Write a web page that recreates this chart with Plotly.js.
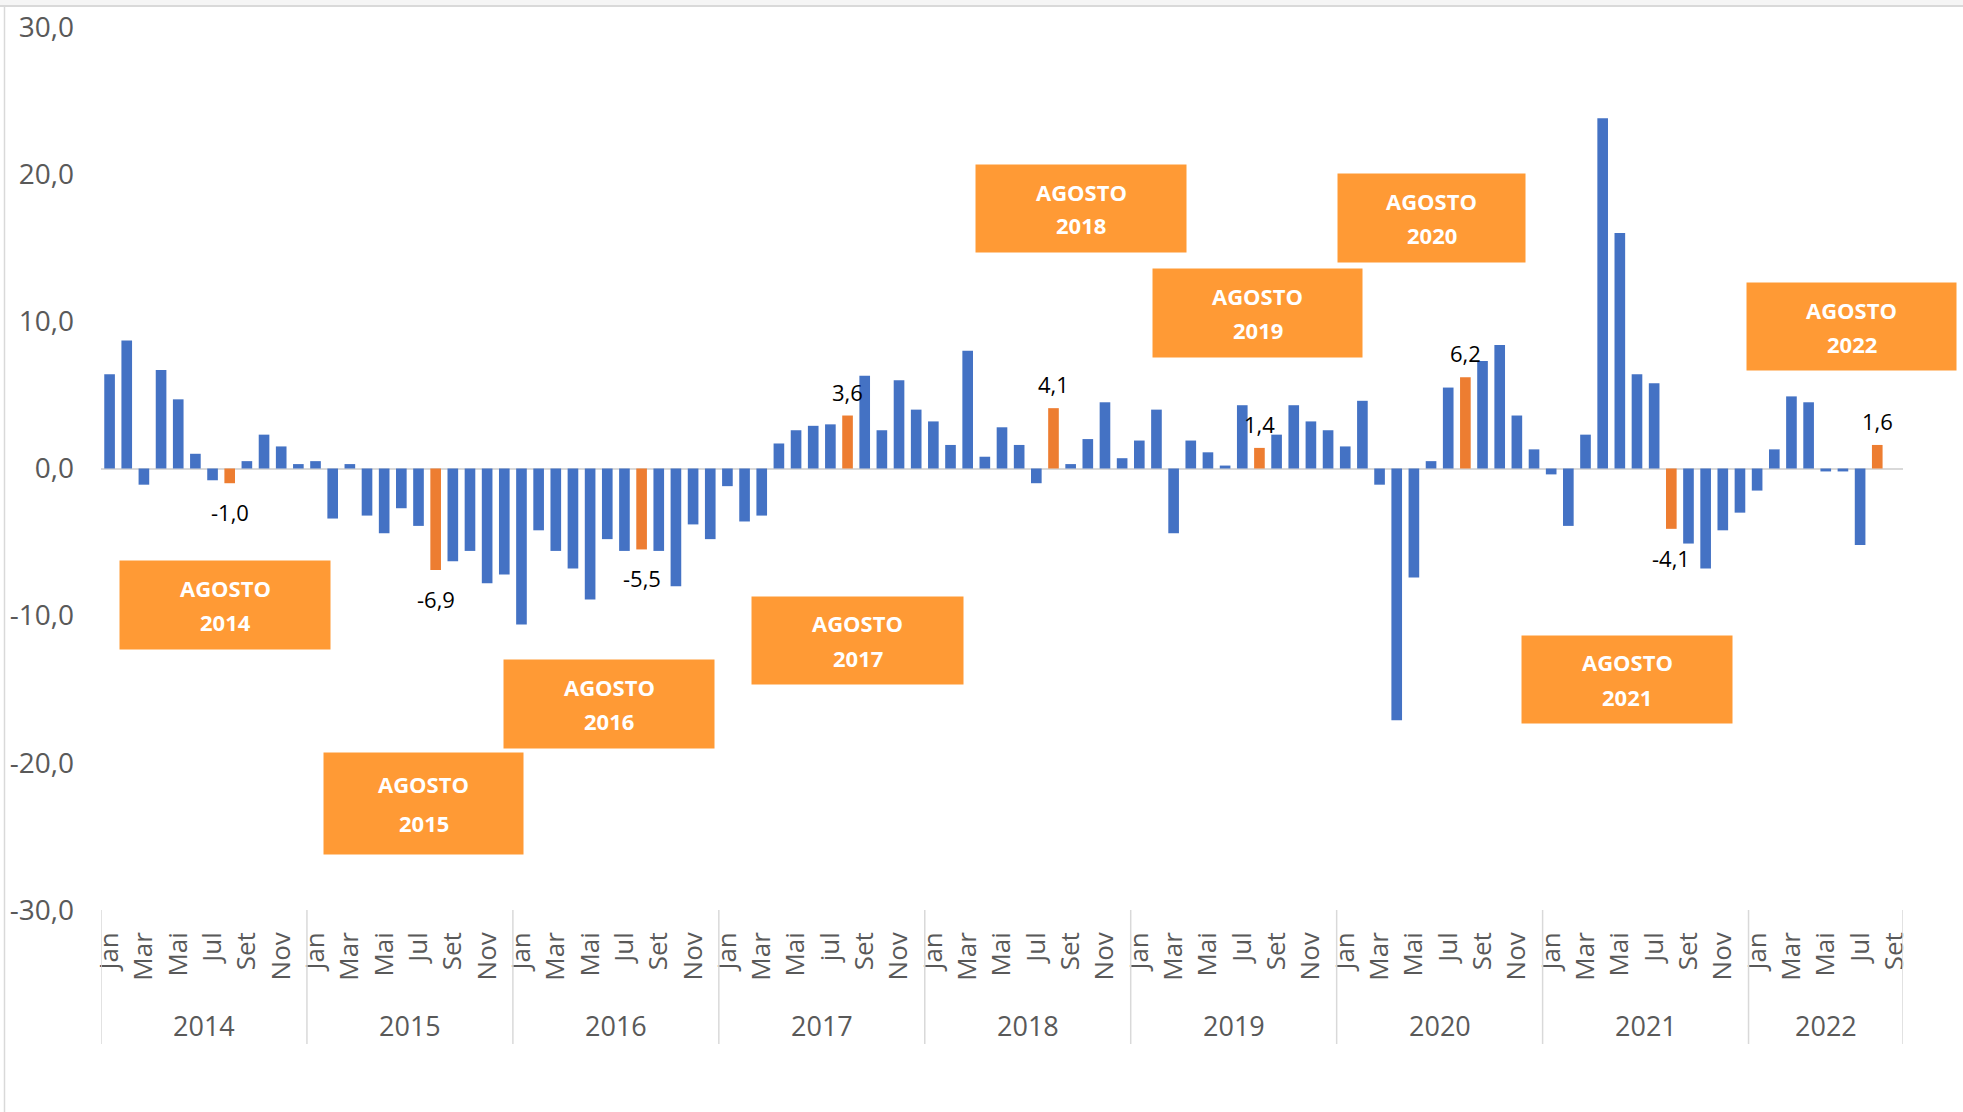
<!DOCTYPE html>
<html><head><meta charset="utf-8">
<script src="https://cdn.plot.ly/plotly-3.0.1.min.js"></script>
<style>html,body{margin:0;padding:0;background:#fff;overflow:hidden}#chart{width:1963px;height:1112px}</style>
</head><body><div id="chart"></div>
<script>
// ---------- data ----------
const years = ['2014','2015','2016','2017','2018','2019','2020','2021','2022'];
const monthNames = ['Jan','Fev','Mar','Abr','Mai','Jun','Jul','Ago','Set','Out','Nov','Dez'];
const monthNames2017 = ['Jan','Fev','Mar','Abr','Mai','Jun','jul','Ago','Set','Out','Nov','Dez'];
const v2014 = [6.4, 8.7, -1.1, 6.7, 4.7, 1.0, -0.8, -1.0, 0.5, 2.3, 1.5, 0.3];
const v2015 = [0.5, -3.4, 0.3, -3.2, -4.4, -2.7, -3.9, -6.9, -6.3, -5.6, -7.8, -7.2];
const v2016 = [-10.6, -4.2, -5.6, -6.8, -8.9, -4.8, -5.6, -5.5, -5.6, -8.0, -3.8, -4.8];
const v2017 = [-1.2, -3.6, -3.2, 1.7, 2.6, 2.9, 3.0, 3.6, 6.3, 2.6, 6.0, 4.0];
const v2018 = [3.2, 1.6, 8.0, 0.8, 2.8, 1.6, -1.0, 4.1, 0.3, 2.0, 4.5, 0.7];
const v2019 = [1.9, 4.0, -4.4, 1.9, 1.1, 0.2, 4.3, 1.4, 2.3, 4.3, 3.2, 2.6];
const v2020 = [1.5, 4.6, -1.1, -17.1, -7.4, 0.5, 5.5, 6.2, 7.3, 8.4, 3.6, 1.3];
const v2021 = [-0.4, -3.9, 2.3, 23.8, 16.0, 6.4, 5.8, -4.1, -5.1, -6.8, -4.2, -3.0];
const v2022 = [-1.5, 1.3, 4.9, 4.5, -0.2, -0.2, -5.2, 1.6, null];
const yTickValues = [-30, -20, -10, 0, 10, 20, 30];
const yTickLabels = ['-30,0', '-20,0', '-10,0', '0,0', '10,0', '20,0', '30,0'];
const highlightMonth = 'Ago';
const boxWord = 'AGOSTO';

// ---------- styles / layout spec ----------
const BLUE = '#4472C4', ORANGE = '#ED7D31', BOX = '#FF9A35', GREY_TXT = '#595959', LINE = '#D9D9D9';
const FONT = 'Open Sans, Noto Sans, sans-serif';
const W = 1963, H = 1112, L = 101, R = 60, T = 27, B = 202;
const PW = W - L - R, PH = H - T - B;
const px = X => (X - L) / PW;
const py = Y => (H - B - Y) / PH;
// text boxes, in page pixels
const boxes = [
  {year:'2014', x0:119, x1:331, y0:560, y1:650, gap:17},
  {year:'2015', x0:323, x1:524, y0:752, y1:855, gap:19.5},
  {year:'2016', x0:503, x1:715, y0:659, y1:749, gap:17},
  {year:'2017', x0:751, x1:964, y0:596, y1:685, gap:17},
  {year:'2018', x0:975, x1:1187, y0:164, y1:253, gap:17},
  {year:'2019', x0:1152, x1:1363, y0:268, y1:358, gap:17},
  {year:'2020', x0:1337, x1:1526, y0:173, y1:263, gap:17},
  {year:'2021', x0:1521, x1:1733, y0:635, y1:724, gap:17},
  {year:'2022', x0:1746, x1:1957, y0:282, y1:371, gap:17}
];

// ---------- build ----------
const series = [v2014, v2015, v2016, v2017, v2018, v2019, v2020, v2021, v2022];
const xs = [], ys = [], colors = [], tickvals = [], ticktext = [], yearCenters = [], dividers = [-0.5], highlights = [];
let idx = 0;
series.forEach((vals, yi) => {
  const names = years[yi] === '2017' ? monthNames2017 : monthNames;
  const start = idx;
  vals.forEach((v, m) => {
    xs.push(idx); ys.push(v);
    const hl = monthNames[m] === highlightMonth;
    colors.push(hl ? ORANGE : BLUE);
    if (m % 2 === 0) { tickvals.push(idx); ticktext.push(names[m]); }
    if (hl && v !== null) highlights.push({x: idx, v: v});
    idx++;
  });
  yearCenters.push((start + idx - 1) / 2);
  dividers.push(idx - 0.5);
});
const fmt = v => v.toFixed(1).replace('.', ',');

const shapes = [];
// outer chart frame
shapes.push({type:'rect', xref:'paper', yref:'paper', x0:px(0), x1:px(W), y0:py(0), y1:py(6), fillcolor:'#F5F5F5', line:{width:0}, layer:'below'});
shapes.push({type:'line', xref:'paper', yref:'paper', x0:px(0), x1:px(W), y0:py(6), y1:py(6), line:{color:LINE, width:2}});
shapes.push({type:'line', xref:'paper', yref:'paper', x0:px(4.5), x1:px(4.5), y0:py(6), y1:py(H), line:{color:LINE, width:1.5}});
// year dividers under the axis
dividers.forEach(d => shapes.push({type:'line', xref:'x', yref:'paper', x0:d, x1:d, y0:0, y1:py(1044), line:{color:LINE, width:1.5}}));
// text boxes
boxes.forEach(b => shapes.push({type:'rect', xref:'paper', yref:'paper', x0:px(b.x0), x1:px(b.x1), y0:py(b.y1), y1:py(b.y0), fillcolor:BOX, line:{color:'#FFFFFF', width:1}}));

const annotations = [];
years.forEach((yr, i) => annotations.push({xref:'x', yref:'paper', x:yearCenters[i], y:py(1025), text:yr, showarrow:false, xanchor:'center', yanchor:'middle', font:{family:FONT, size:27, color:GREY_TXT}}));
highlights.forEach(h => annotations.push({xref:'x', yref:'y', x:h.x, y:h.v, text:fmt(h.v), showarrow:false, xanchor:'center', yanchor:'middle', yshift: h.v >= 0 ? 24 : -29, font:{family:FONT, size:22, color:'#000000'}}));
boxes.forEach(b => {
  const cx = px((b.x0 + b.x1) / 2), cy = (b.y0 + b.y1) / 2;
  annotations.push({xref:'paper', yref:'paper', x:cx, y:py(cy - b.gap), text:'<b>' + boxWord + '</b>', showarrow:false, xanchor:'center', yanchor:'middle', font:{family:FONT, size:22, color:'#FFFFFF'}});
  annotations.push({xref:'paper', yref:'paper', x:cx, y:py(cy + b.gap), text:'<b>' + b.year + '</b>', showarrow:false, xanchor:'center', yanchor:'middle', font:{family:FONT, size:22, color:'#FFFFFF'}});
});

const trace = {type:'bar', x:xs, y:ys, marker:{color:colors, line:{width:0}}, hoverinfo:'skip', showlegend:false};

const layout = {
  width: W, height: H,
  margin: {l:L, r:R, t:T, b:B, pad:0},
  paper_bgcolor: '#FFFFFF', plot_bgcolor: '#FFFFFF',
  bargap: 0.38,
  showlegend: false,
  xaxis: {range:[-0.5, idx - 0.5], tickmode:'array', tickvals:tickvals, ticktext:ticktext, tickangle:-90,
          ticks:'', showgrid:false, zeroline:false, showline:false, ticklabelstandoff:16,
          tickfont:{family:FONT, size:26, color:GREY_TXT}, fixedrange:true},
  yaxis: {range:[-30, 30], tickmode:'array', tickvals:yTickValues, ticktext:yTickLabels, ticks:'',
          showgrid:false, zeroline:true, zerolinecolor:LINE, zerolinewidth:2, showline:false,
          ticklabelstandoff:26, tickfont:{family:FONT, size:28, color:GREY_TXT}, fixedrange:true},
  shapes: shapes,
  annotations: annotations
};
Plotly.newPlot('chart', [trace], layout, {staticPlot:true, displayModeBar:false});
</script></body></html>
